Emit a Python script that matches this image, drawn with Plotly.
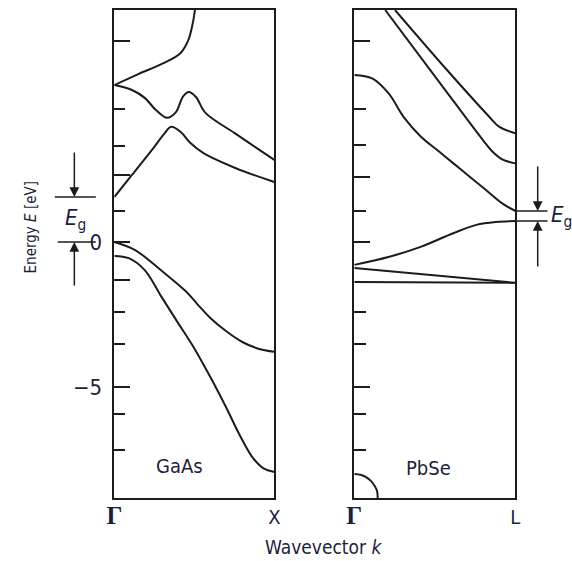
import plotly.graph_objects as go

# ---------------- data (k: 0 = Γ, 1 = X or L ; E in eV) ----------------
gaas_c3_k = [0, 0.15, 0.30, 0.413, 0.463, 0.490, 0.504, 0.512]
gaas_c3_E = [5.41, 5.79, 6.15, 6.51, 6.97, 7.54, 8.0, 8.3]

gaas_c2_k = [0, 0.11, 0.19, 0.26, 0.33, 0.385, 0.43, 0.465, 0.51, 0.57, 0.75, 1.0]
gaas_c2_E = [5.41, 5.24, 4.97, 4.55, 4.28, 4.48, 5.02, 5.17, 5.0, 4.45, 3.76, 2.83]

gaas_c1_k = [0, 0.11, 0.25, 0.31, 0.355, 0.415, 0.476, 0.555, 0.756, 1.0]
gaas_c1_E = [1.55, 2.31, 3.28, 3.72, 3.97, 3.79, 3.41, 3.07, 2.55, 2.07]

gaas_v1_k = [0, 0.13, 0.29, 0.45, 0.52, 0.60, 0.70, 0.80, 0.90, 1.0]
gaas_v1_E = [0, -0.28, -0.97, -1.72, -2.15, -2.62, -3.08, -3.45, -3.68, -3.79]

gaas_v2_k = [0, 0.09, 0.19, 0.29, 0.39, 0.49, 0.60, 0.70, 0.78, 0.86, 0.93, 1.0]
gaas_v2_E = [-0.48, -0.56, -0.97, -1.85, -2.72, -3.58, -4.66, -5.72, -6.62, -7.40, -7.80, -7.93]

pbse_a_k = [0.192, 0.515, 0.798, 0.859, 0.919, 1.0]
pbse_a_E = [8.0, 5.61, 3.52, 3.11, 2.85, 2.71]

pbse_b_k = [0.253, 0.576, 0.838, 0.899, 1.0]
pbse_b_E = [8.0, 5.93, 4.32, 3.98, 3.75]

pbse_c_k = [0, 0.111, 0.212, 0.313, 0.414, 0.515, 0.616, 0.717, 0.818, 0.919, 1.0]
pbse_c_E = [5.76, 5.64, 5.13, 4.26, 3.63, 3.17, 2.71, 2.25, 1.79, 1.33, 1.07]

pbse_v_k = [0, 0.212, 0.412, 0.618, 0.758, 0.879, 1.0]
pbse_v_E = [-0.79, -0.52, -0.17, 0.31, 0.59, 0.69, 0.72]

pbse_s_k = [0, 1.0]
pbse_s_E = [-0.90, -1.41]

pbse_h_k = [0, 1.0]
pbse_h_E = [-1.38, -1.41]

pbse_arc_k = [0, 0.038, 0.073, 0.103, 0.126, 0.141, 0.145]
pbse_arc_E = [-8.0, -8.03, -8.11, -8.24, -8.41, -8.58, -8.83]

gaas_Eg = 1.55
pbse_cb_L = 1.07
pbse_vb_L = 0.72

y_range = [-8.83, 8.0]
gaas_major = [6.93, 2.31, 0, -1.31, -5]
gaas_major_text = ["", "", "0", "", "\u22125"]
gaas_minor = [4.59, 3.31, 1.07, -2.41, -3.52, -5.93, -7.17]
pbse_major = [6.93, 2.24, 0, -5]
pbse_minor = [4.59, 3.34, 1.07, -2.41, -3.52, -5.93, -7.17]

W, H = 572, 561
INK = "#1c1c1c"
TXT = "#1b1f3a"
FONT = "DejaVu Sans Condensed, DejaVu Sans, sans-serif"

def px(x):
    return x / W

def py(y):
    return 1 - y / H

fig = go.Figure()

line = dict(color=INK, width=2, shape="spline", smoothing=1.0)
for k, E in [(gaas_c3_k, gaas_c3_E), (gaas_c2_k, gaas_c2_E), (gaas_c1_k, gaas_c1_E),
             (gaas_v1_k, gaas_v1_E), (gaas_v2_k, gaas_v2_E)]:
    fig.add_trace(go.Scatter(x=k, y=E, mode="lines", line=line, xaxis="x", yaxis="y",
                             showlegend=False, hoverinfo="skip"))
for k, E in [(pbse_a_k, pbse_a_E), (pbse_b_k, pbse_b_E), (pbse_c_k, pbse_c_E),
             (pbse_v_k, pbse_v_E), (pbse_s_k, pbse_s_E), (pbse_h_k, pbse_h_E),
             (pbse_arc_k, pbse_arc_E)]:
    fig.add_trace(go.Scatter(x=k, y=E, mode="lines", line=line, xaxis="x2", yaxis="y2",
                             showlegend=False, hoverinfo="skip"))

gamma = "<span style=\"font-family:'Liberation Serif';font-size:25px\"><b>\u0393</b></span>"
xcommon = dict(range=[0, 1], showline=True, mirror=True, linecolor=INK, linewidth=1.5,
               showgrid=False, zeroline=False, ticks="", tickvals=[0, 1],
               tickfont=dict(family=FONT, size=20, color=TXT), fixedrange=True)
ycommon = dict(range=y_range, showline=True, mirror=True, linecolor=INK, linewidth=1.5,
               showgrid=False, zeroline=False, ticks="inside", ticklen=16, tickwidth=1.5,
               tickcolor=INK, fixedrange=True,
               domain=[py(498), py(10)])

fig.update_layout(
    width=W, height=H, margin=dict(l=0, r=0, t=0, b=0),
    paper_bgcolor="white", plot_bgcolor="white",
    xaxis=dict(domain=[px(109), px(273)], anchor="y", ticktext=[gamma, "X"], **xcommon),
    xaxis2=dict(domain=[px(355), px(520)], anchor="y2", ticktext=[gamma, "L"], **xcommon),
    yaxis=dict(anchor="x", tickvals=gaas_major, ticktext=gaas_major_text,
               tickfont=dict(family=FONT, size=22, color=TXT), ticklabelstandoff=6,
               minor=dict(tickvals=gaas_minor, ticks="inside", ticklen=11, tickwidth=1.5, tickcolor=INK),
               **ycommon),
    yaxis2=dict(anchor="x2", tickvals=pbse_major, showticklabels=False,
                minor=dict(tickvals=pbse_minor, ticks="inside", ticklen=12, tickwidth=1.5, tickcolor=INK),
                **ycommon),
)

# Eg markers
shapes = []
shapes.append(dict(type="line", xref="paper", yref="y", x0=px(48), x1=px(90), y0=gaas_Eg, y1=gaas_Eg,
                   line=dict(color=INK, width=1.5)))
shapes.append(dict(type="line", xref="paper", yref="y", x0=px(51), x1=px(90), y0=0, y1=0,
                   line=dict(color=INK, width=1.5)))
shapes.append(dict(type="line", xref="paper", yref="y2", x0=px(520), x1=px(553), y0=pbse_cb_L, y1=pbse_cb_L,
                   line=dict(color=INK, width=1.5)))
shapes.append(dict(type="line", xref="paper", yref="y2", x0=px(520), x1=px(553), y0=pbse_vb_L, y1=pbse_vb_L,
                   line=dict(color=INK, width=1.5)))
fig.update_layout(shapes=shapes)

arrow = dict(showarrow=True, arrowhead=2, arrowsize=1.3, arrowwidth=1.5, arrowcolor=INK, text="",
             ax=0, xref="paper")
label = dict(xref="paper", showarrow=False, xanchor="center", yanchor="middle")
anns = [
    dict(x=px(68), y=gaas_Eg, yref="y", ay=-46, **arrow),
    dict(x=px(68), y=0, yref="y", ay=45, **arrow),
    dict(x=px(543), y=pbse_cb_L, yref="y2", ay=-46, **arrow),
    dict(x=px(543), y=pbse_vb_L, yref="y2", ay=47, **arrow),
    dict(x=px(69), y=gaas_Eg / 2, yref="y",
         text="<i>E</i><sub>g</sub>", font=dict(family=FONT, size=22, color=TXT), **label),
    dict(x=px(567), y=(pbse_cb_L + pbse_vb_L) / 2, yref="y2",
         text="<i>E</i><sub>g</sub>", font=dict(family=FONT, size=22, color=TXT), **label),
    dict(x=px(176), y=py(466), yref="paper",
         text="GaAs", font=dict(family=FONT, size=20, color=TXT), **label),
    dict(x=px(431), y=py(468), yref="paper",
         text="PbSe", font=dict(family=FONT, size=20, color=TXT), **label),
    dict(x=px(323), y=py(547), yref="paper",
         text="Wavevector <i>k</i>", font=dict(family=FONT, size=19, color=TXT), **label),
    dict(x=px(24), y=py(227), yref="paper", textangle=-90,
         text="Energy <i>E</i> [eV]", font=dict(family=FONT, size=15, color=TXT), **label),
]
fig.update_layout(annotations=anns)

fig.write_html("out.html")
